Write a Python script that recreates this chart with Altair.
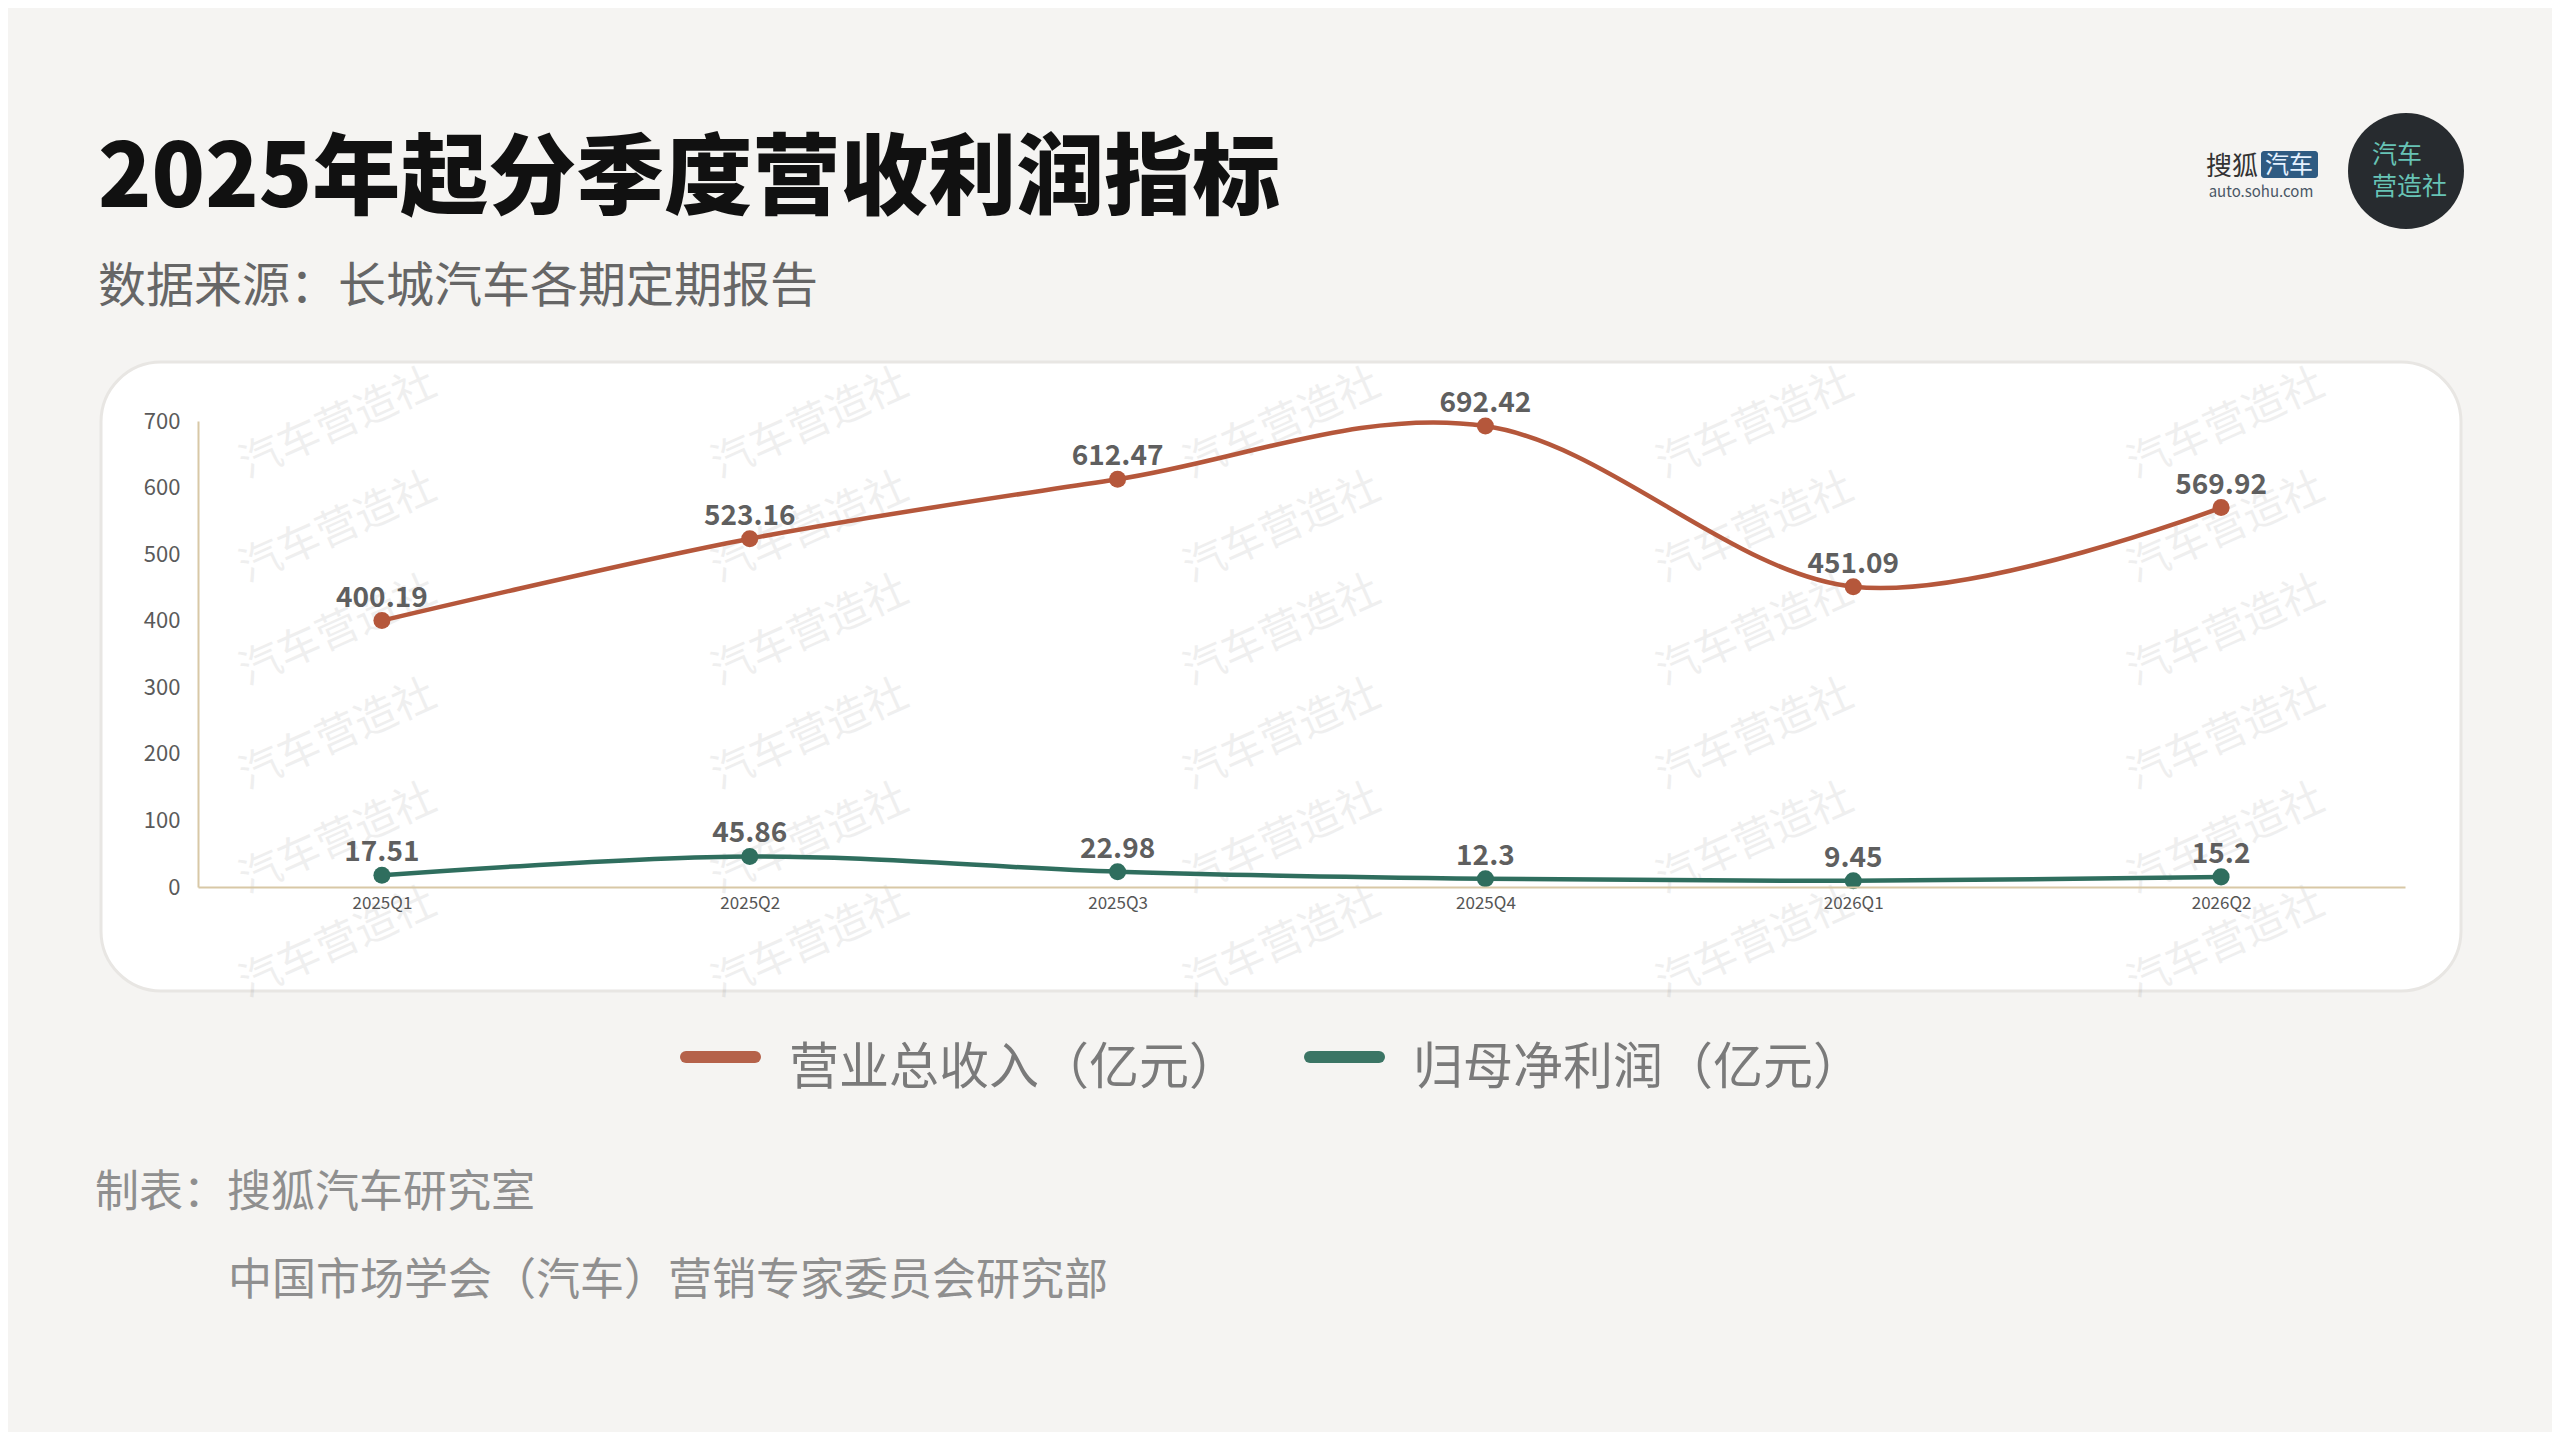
import altair as alt
import pandas as pd

# ---------------- data ----------------
quarters = ["2025Q1", "2025Q2", "2025Q3", "2025Q4", "2026Q1", "2026Q2"]
revenue = [400.19, 523.16, 612.47, 692.42, 451.09, 569.92]
profit = [17.51, 45.86, 22.98, 12.3, 9.45, 15.2]
series_names = ["营业总收入（亿元）", "归母净利润（亿元）"]
series_colors = ["#B5573B", "#2F6E5E"]
legend_colors = ["#B5624A", "#3B7565"]
y_ticks = [0, 100, 200, 300, 400, 500, 600, 700]

title_text = "2025年起分季度营收利润指标"
subtitle_text = "数据来源：长城汽车各期定期报告"
footer1 = "制表：搜狐汽车研究室"
footer2 = "中国市场学会（汽车）营销专家委员会研究部"
watermark = "汽车营造社"

FONT = "Noto Sans CJK SC"
W, H = 2207, 466

rows = []
for name, vals in zip(series_names, [revenue, profit]):
    for q, v in zip(quarters, vals):
        rows.append({"quarter": q, "value": v, "series": name, "label": str(v)})
df = pd.DataFrame(rows)

one = pd.DataFrame({"k": [0]})

x_enc = alt.X("quarter:N", sort=quarters, title=None,
              axis=alt.Axis(labelAngle=0, labelFontSize=17, labelColor="#555555",
                            labelFont=FONT, ticks=False, labelPadding=8,
                            domainColor="#D8C8A6", domainWidth=2, grid=False, zindex=1))
y_enc = alt.Y("value:Q", title=None,
              scale=alt.Scale(domain=[0, 700], nice=False, zero=True),
              axis=alt.Axis(values=y_ticks, labelFontSize=22, labelColor="#5A5A5A",
                            labelFont=FONT, ticks=False, labelPadding=18,
                            domainColor="#D8C8A6", domainWidth=2, grid=False, zindex=1))
color_enc = alt.Color("series:N", scale=alt.Scale(domain=series_names, range=series_colors),
                      legend=None)

layers = []

# card
layers.append(alt.Chart(one).mark_rect(fill="white", stroke="#E8E6E3", strokeWidth=3,
                                       cornerRadius=60).encode(
    x=alt.value(-97), x2=alt.value(2263), y=alt.value(-59), y2=alt.value(570)))

# watermarks
wm_x = [140, 612, 1084, 1557, 2028]
wm_y = [3, 107, 210, 314, 418, 522]
for wx in wm_x:
    for wy in wm_y:
        layers.append(alt.Chart(one).mark_text(
            text=watermark, font=FONT, fontSize=42, angle=336, color="#000000",
            opacity=0.06, align="center", baseline="middle").encode(
            x=alt.value(wx), y=alt.value(wy)))

base = alt.Chart(df)
layers.append(base.mark_line(interpolate="cardinal", strokeWidth=4.5).encode(
    x=x_enc, y=y_enc, color=color_enc, detail="series:N"))
layers.append(base.mark_point(filled=True, opacity=1, size=290).encode(
    x=x_enc, y=y_enc, color=color_enc))
layers.append(base.mark_text(font=FONT, fontSize=28, fontWeight="bold", color="#5F5F5F",
                             dy=-14, baseline="alphabetic", align="center").encode(
    x=x_enc, y=y_enc, text="label:N"))

def txt(text, x, y, size, color, weight="normal", align="left", baseline="alphabetic"):
    return alt.Chart(one).mark_text(text=text, font=FONT, fontSize=size, color=color,
                                    fontWeight=weight, align=align, baseline=baseline).encode(
        x=alt.value(x), y=alt.value(y))

# title block
layers.append(txt(title_text, -100, -214, 88, "#111111", weight=900))
layers.append(txt(subtitle_text, -100, -119, 48, "#666666"))

# sohu logo
layers.append(txt("搜狐", 2008, -246, 26, "#333333"))
layers.append(alt.Chart(one).mark_rect(fill="#2F5B82", cornerRadius=3).encode(
    x=alt.value(2063), x2=alt.value(2120), y=alt.value(-270), y2=alt.value(-243)))
layers.append(txt("汽车", 2091, -248, 24, "#E6F2FF", align="center"))
layers.append(txt("auto.sohu.com", 2063, -224, 15, "#4A5766", align="center"))

# circle logo
layers.append(alt.Chart(one).mark_point(shape="circle", filled=True, opacity=1,
                                        color="#272B2F", size=13456).encode(
    x=alt.value(2208), y=alt.value(-250)))
layers.append(txt("汽车", 2174, -258, 25, "#67C3B5"))
layers.append(txt("营造社", 2174, -226, 25, "#67C3B5"))

# legend
for (x1, x2, tx), name, col in zip([(488, 557, 591), (1112, 1181, 1215)], series_names, legend_colors):
    layers.append(alt.Chart(one).mark_rule(strokeWidth=12, strokeCap="round", color=col).encode(
        x=alt.value(x1), x2=alt.value(x2), y=alt.value(636)))
    layers.append(txt(name, tx, 663, 50, "#7A7A7A"))

# footer
layers.append(txt(footer1, -103, 786, 44, "#8F8F8F"))
layers.append(txt(footer2, 30, 874, 44, "#8F8F8F"))

chart = alt.layer(*layers).properties(
    width=W, height=H,
    padding={"left": 190, "top": 413, "right": 147, "bottom": 545},
    autosize=alt.AutoSizeParams(type="none"),
    background="#F5F4F2",
).configure_view(strokeWidth=0)

chart.save("out.html", embed_options={"renderer": "svg", "actions": False})
